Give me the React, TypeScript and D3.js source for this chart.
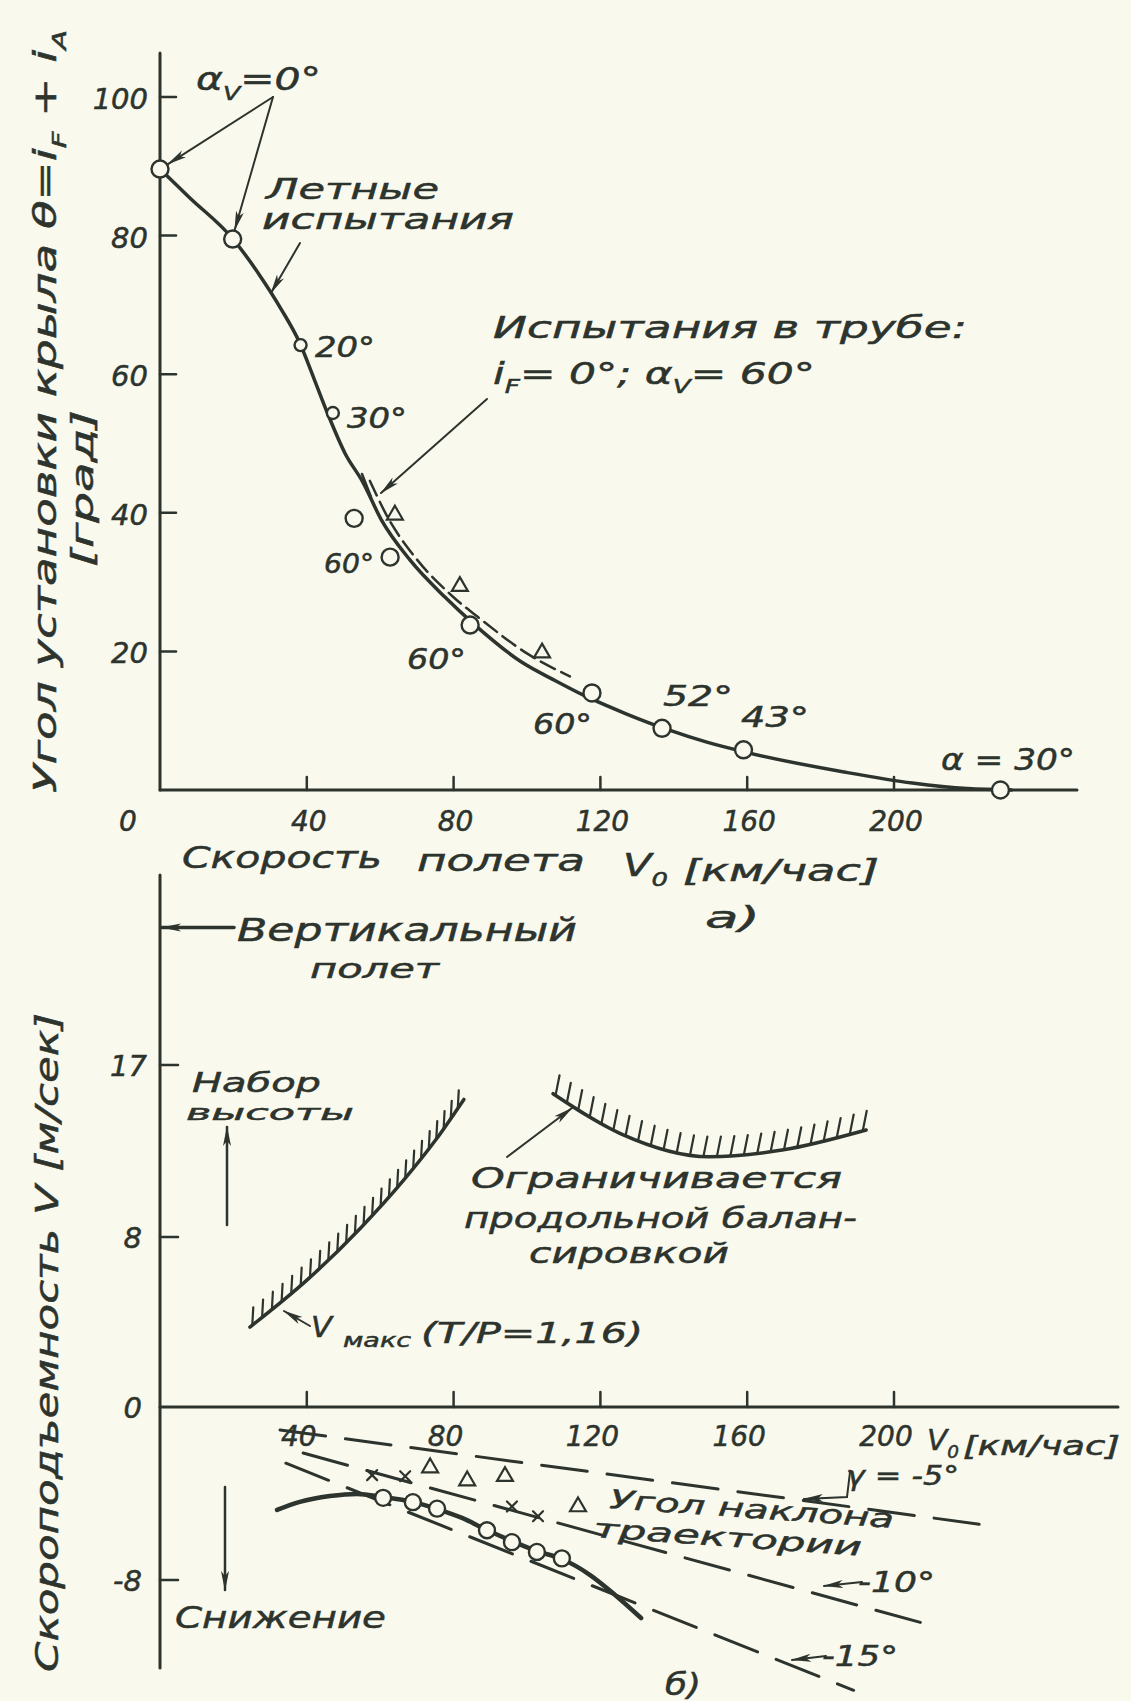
import React, { useEffect, useRef } from "react";
import * as d3 from "d3";

const W = 1131;
const H = 1701;
const INK = "#2d332d";
const PAPER = "#f9f9ed";
const FONT = "'DejaVu Sans', sans-serif";

// shared x axis: скорость полета V0 [км/час]
const speedTicks = [40, 80, 120, 160, 200];
// panel a) угол установки крыла [град]
const angleTicks = [20, 40, 60, 80, 100];
// panel б) скороподъемность [м/сек]
const climbTicks = [-8, 0, 8, 17];

// a) flight tests: V0, theta
const flightCurve = [
  [0, 89.6], [8, 85.5], [19.9, 79.5], [27, 74.4], [33, 69.4], [38, 64.6], [42, 59.3], [46, 53.9],
  [50.4, 48.6], [55.3, 44.4], [60.2, 39.1], [68.1, 33.2], [77.7, 27.8], [85.6, 23.9],
  [98.4, 18.5], [108, 15.7], [116.1, 13.5], [127, 11], [138.4, 8.7], [149, 6.9],
  [160, 5.4], [186.4, 2.6], [205, 1], [220, 0.2], [232, 0],
];
const flightPoints = [
  [0, 89.6], [19.8, 79.5], [52.9, 39.2], [62.7, 33.6], [84.5, 23.8],
  [117.7, 14], [136.8, 8.9], [159, 5.8], [229, 0],
];
const flightPointsSmall = [[38.3, 64.2], [47.1, 54.4]];
// a) wind tunnel tests
const tunnelCurve = [
  [57.2, 44.6], [62.1, 39.3], [69.8, 33.4], [79.6, 28], [87.5, 24.6], [100.3, 19.6], [111.7, 16.4],
];
const tunnelPoints = [[64, 39.4], [81.7, 29.1], [104.1, 19.5]];

// б) limits of climb
const vmaxCurve = [[24.5, 3.76], [40.1, 5.98], [54.8, 8.5], [66.5, 11], [75.2, 13.1], [82.8, 15.2]];
const trimCurve = [[107.1, 15.5], [125.6, 13.4], [149.6, 12.2], [169.5, 12.55], [192.4, 13.6]];
const verticalFlightRate = 24.2;

// б) descent
const descentCurve = [
  [31.9, -4.76], [38.1, -4.39], [46.3, -4.12], [53.7, -4.02], [60.8, -4.16], [68.9, -4.39],
  [75.5, -4.72], [82.3, -5.13], [89.1, -5.69], [95.9, -6.2], [102.7, -6.66], [109.5, -7.03],
  [117.2, -7.77], [124, -8.69], [131.1, -9.76],
];
const descentCircles = [
  [60.8, -4.2], [68.9, -4.4], [75.5, -4.7], [89.1, -5.7], [95.9, -6.25], [102.7, -6.7], [109.5, -7.0],
];
const descentCrosses = [[57.8, -3.15], [66.8, -3.2], [95.9, -4.6], [103, -5.05]];
const descentTriangles = [[73.6, -2.9], [83.7, -3.5], [94, -3.3], [113.9, -4.7]];

// б) glide path angles
const glideNames = ["-5°", "-10°", "-15°"];
const glideStart = [[32.7, -1.06], [39, -2.13], [34.3, -2.6]];
const glideEnd = [[223.2, -5.42], [212.3, -10.2], [189, -13.1]];

type Part = string | { t: string; sub?: boolean };

export default function App() {
  const svgRef = useRef<SVGSVGElement>(null);

  useEffect(() => {
    const svg = d3.select(svgRef.current);
    svg.selectAll("*").remove();

    const x = d3.scaleLinear().domain([0, 200]).range([160, 894]);
    const yA = d3.scaleLinear().domain([0, 100]).range([790, 97]);
    const yB = d3.scaleLinear().domain([-8, 0, 8, 17]).range([1580, 1407, 1237, 1065]);

    svg.append("rect").attr("width", W).attr("height", H).attr("fill", PAPER);

    svg
      .append("defs")
      .append("marker")
      .attr("id", "arr")
      .attr("markerUnits", "userSpaceOnUse")
      .attr("markerWidth", 20)
      .attr("markerHeight", 10)
      .attr("refX", 19)
      .attr("refY", 5)
      .attr("orient", "auto")
      .append("path")
      .attr("d", "M0,1 L20,5 L0,9 L5,5 z")
      .attr("fill", INK);

    const g = svg
      .append("g")
      .attr("stroke-linecap", "round")
      .attr("font-family", FONT)
      .attr("font-style", "italic");

    const seg = (x1, y1, x2, y2, w = 3, arrow = false) => {
      const l = g
        .append("line")
        .attr("x1", x1)
        .attr("y1", y1)
        .attr("x2", x2)
        .attr("y2", y2)
        .attr("stroke", INK)
        .attr("stroke-width", w);
      if (arrow) l.attr("marker-end", "url(#arr)");
      return l;
    };

    const txt = (parts: Part[], tx, ty, size = 28, len = 0, anchor = "start", rot = 0) => {
      const t = g
        .append("text")
        .attr("x", tx)
        .attr("y", ty)
        .attr("fill", INK)
        .attr("stroke", INK)
        .attr("stroke-width", 0.5)
        .attr("font-size", size)
        .attr("text-anchor", anchor);
      if (len) t.attr("textLength", len).attr("lengthAdjust", "spacingAndGlyphs");
      if (rot) t.attr("transform", `rotate(${rot},${tx},${ty})`);
      let shift = 0;
      parts.forEach((p) => {
        const s = typeof p === "string" ? { t: p } : p;
        const target = s.sub ? 0.3 : 0;
        const ts = t.append("tspan").text(s.t);
        if (target !== shift) ts.attr("dy", (target - shift) * size);
        if (s.sub) ts.attr("font-size", size * 0.62);
        shift = target;
      });
      return t;
    };

    const curve = (data, yS, w = 3.5, dash = "") => {
      const p = g
        .append("path")
        .attr("d", d3.line().x((d) => x(d[0])).y((d) => yS(d[1])).curve(d3.curveMonotoneX)(data))
        .attr("fill", "none")
        .attr("stroke", INK)
        .attr("stroke-width", w);
      if (dash) p.attr("stroke-dasharray", dash);
      return p;
    };

    const hatch = (path, step, dx, dy) => {
      const node = path.node();
      const L = node.getTotalLength();
      for (let s = 3; s < L - 1; s += step) {
        const pt = node.getPointAtLength(s);
        seg(pt.x, pt.y, pt.x + dx, pt.y + dy, 2.2);
      }
    };

    const circles = (data, yS, r) => {
      g.selectAll(null)
        .data(data)
        .join("circle")
        .attr("cx", (d) => x(d[0]))
        .attr("cy", (d) => yS(d[1]))
        .attr("r", r)
        .attr("fill", PAPER)
        .attr("stroke", INK)
        .attr("stroke-width", 2.4);
    };

    const triangles = (data, yS) => {
      g.selectAll(null)
        .data(data)
        .join("path")
        .attr("d", d3.symbol(d3.symbolTriangle, 110))
        .attr("transform", (d) => `translate(${x(d[0])},${yS(d[1]) - 2})`)
        .attr("fill", PAPER)
        .attr("stroke", INK)
        .attr("stroke-width", 2.2);
    };

    // ---------------- panel a) ----------------
    seg(x(0), 53, x(0), yA(0), 3);
    seg(x(0), yA(0), 1077, yA(0), 3);
    angleTicks.forEach((t) => {
      seg(x(0), yA(t), x(0) + 16, yA(t), 2.5);
      txt([String(t)], 148, yA(t) + 12, 29, 0, "end");
    });
    speedTicks.forEach((t) => {
      seg(x(t), yA(0), x(t), yA(0) - 13, 2.5);
      txt([String(t)], x(t) + 2, 831, 28, 0, "middle");
    });
    txt(["0"], 128, 831, 28, 0, "middle");

    // axis titles
    txt(["Угол установки крыла  θ=i", { t: "F", sub: true }, " + i", { t: "A", sub: true }], 56, 793, 32, 763, "start", -90);
    txt(["[град]"], 93, 567, 30, 157, "start", -90);
    txt(["Скорость"], 182, 868, 31, 200);
    txt(["полета"], 417, 871, 31, 168);
    txt(["V", { t: "0", sub: true }], 623, 876, 32, 45);
    txt(["[км/час]"], 683, 881, 30, 196);
    txt(["а)"], 705, 928, 30, 55);

    // curves and points
    curve(flightCurve, yA, 3.5);
    curve(tunnelCurve, yA, 2.5, "16 7");
    seg(362, 474, 371, 497, 2.5);
    circles(flightPoints, yA, 8.5);
    circles(flightPointsSmall, yA, 6);
    triangles(tunnelPoints, yA);

    // annotations
    txt(["α", { t: "V", sub: true }, "=0°"], 196, 90, 32, 125);
    seg(273, 97, x(flightPoints[0][0]) + 8, yA(flightPoints[0][1]) - 5, 2, true);
    seg(273, 97, x(flightPoints[1][0]) + 2, yA(flightPoints[1][1]) - 9, 2, true);
    txt(["Летные"], 266, 199, 28, 173);
    txt(["испытания"], 262, 229, 28, 252);
    seg(300, 243, 271, 293, 2, true);
    txt(["Испытания в трубе:"], 493, 338, 30, 474);
    txt(["i", { t: "F", sub: true }, "= 0°; α", { t: "V", sub: true }, "= 60°"], 493, 384, 30, 322);
    seg(487, 399, 381, 493, 2, true);
    txt(["20°"], 315, 357, 28, 60);
    txt(["30°"], 347, 428, 28, 60);
    txt(["60°"], 324, 573, 26, 50);
    txt(["60°"], 407, 669, 28, 59);
    txt(["60°"], 533, 734, 28, 59);
    txt(["52°"], 663, 706, 28, 70);
    txt(["43°"], 741, 727, 28, 68);
    txt(["α = 30°"], 941, 770, 30, 134);

    // ---------------- panel б) ----------------
    seg(x(0), 875, x(0), 1668, 3);
    seg(x(0), yB(0), 1118, yB(0), 3);
    climbTicks
      .filter((t) => t !== 0)
      .forEach((t) => seg(x(0), yB(t), x(0) + 18, yB(t), 2.5));
    climbTicks.forEach((t) => txt([String(t)], t === 17 ? 147 : 142, yB(t) + 11, 29, 0, "end"));
    speedTicks.forEach((t) => {
      seg(x(t), yB(0), x(t), yB(0) - 15, 2.5);
      txt([String(t)], x(t) - 8, 1446, 28, 0, "middle");
    });
    txt(["V", { t: "0", sub: true }], 927, 1450, 28, 32);
    txt(["[км/час]"], 963, 1455, 26, 157);

    txt(["Скороподъемность  V [м/сек]"], 58, 1672, 32, 659, "start", -90);
    txt(["б)"], 665, 1695, 30, 36);

    // vertical flight
    seg(234, yB(verticalFlightRate), x(0) + 2, yB(verticalFlightRate), 3.5, true);
    txt(["Вертикальный"], 237, 941, 32, 340);
    txt(["полет"], 310, 978, 26, 129);

    // climb / descent arrows
    txt(["Набор"], 192, 1092, 26, 129);
    txt(["высоты"], 186, 1120, 22, 168);
    seg(227, 1225, 227, 1127, 2.5, true);
    seg(225, 1487, 225, 1590, 2.5, true);
    txt(["Снижение"], 175, 1628, 30, 211);

    // hatched limits
    const vmax = curve(vmaxCurve, yB, 3.5);
    hatch(vmax, 12.5, 1, -18);
    txt(["V"], 311, 1337, 28, 21);
    txt(["макс"], 343, 1347, 20, 68);
    txt(["(T/P=1,16)"], 421, 1343, 28, 222);
    seg(310, 1326, 284, 1311, 2, true);

    const trim = curve(trimCurve, yB, 3.5);
    hatch(trim, 13.5, 4, -20);
    txt(["Ограничивается"], 471, 1188, 28, 371);
    txt(["продольной балан-"], 464, 1228, 28, 393);
    txt(["сировкой"], 529, 1263, 28, 200);
    seg(507, 1157, 572, 1108, 2, true);

    // glide angle lines
    glideNames.forEach((n, i) => {
      curve([glideStart[i], glideEnd[i]], yB, 3, "46 20");
    });
    txt(["γ = -5°"], 846, 1485, 26, 113);
    g.append("path")
      .attr("d", "M850,1472 L847,1497 L804,1499")
      .attr("fill", "none")
      .attr("stroke", INK)
      .attr("stroke-width", 2)
      .attr("marker-end", "url(#arr)");
    txt(["-10°"], 858, 1592, 28, 77);
    seg(862, 1582, 824, 1586, 2, true);
    txt(["-15°"], 822, 1666, 28, 76);
    seg(826, 1656, 792, 1660, 2, true);
    txt(["Угол наклона"], 609, 1508, 26, 285, "start", 4);
    txt(["траектории"], 593, 1537, 26, 269, "start", 4);

    // descent curve and test points
    curve(descentCurve, yB, 4.5);
    circles(descentCircles, yB, 8);
    triangles(descentTriangles, yB);
    descentCrosses.forEach((d) => {
      const cx = x(d[0]);
      const cy = yB(d[1]);
      seg(cx - 5, cy - 5, cx + 5, cy + 5, 2.2);
      seg(cx - 5, cy + 5, cx + 5, cy - 5, 2.2);
    });
  }, []);

  return (
    <div style={{ position: "absolute", left: 0, top: 0 }}>
      <svg ref={svgRef} width={W} height={H} />
    </div>
  );
}
